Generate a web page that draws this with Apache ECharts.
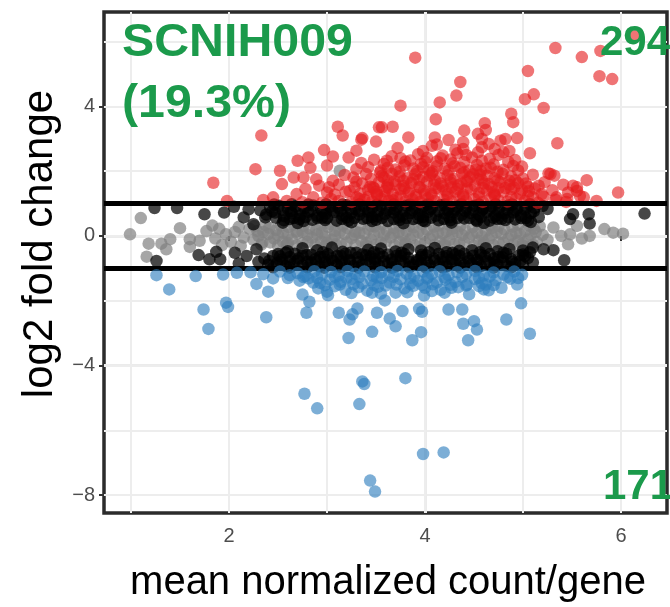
<!DOCTYPE html>
<html>
<head>
<meta charset="utf-8">
<script src="https://cdn.jsdelivr.net/npm/echarts@6/dist/echarts.min.js"></script>
<style>
  html, body { margin: 0; padding: 0; background: #ffffff; }
  #chart { width: 670px; height: 607px; }
</style>
</head>
<body>
<div id="chart"></div>
<script>
// Axis extents and labelled ticks (log10 mean count vs. log2 fold change)
const xRange = [0.7245, 6.469];
const yRange = [-8.55, 6.91];
const xTicks = [2, 4, 6];
const yTicks = [-8, -4, 0, 4];
const foldThresholds = [1, -1];

const sampleName = 'SCNIH009';
const sampleShare = '(19.3%)';
const upCount = '294';
const downCount = '171';

// Up-regulated genes (log2FC > 1, significant)
const upGenes = [
  [5.33,5.80],[5.60,5.52],[5.79,5.71],[6.14,6.16],[5.78,4.93],[5.91,4.84],[3.90,5.50],[5.05,5.09],
  [4.36,4.75],[4.32,4.33],[4.15,4.12],[5.02,4.22],[5.11,4.37],[5.21,3.95],[3.75,4.02],[4.11,3.60],
  [3.67,3.37],[3.56,3.35],[3.83,3.04],[4.61,3.48],[4.40,3.25],[4.54,3.15],[4.88,3.77],[4.90,3.51],
  [4.94,3.02],[5.35,2.86],[5.07,2.55],[4.82,2.99],[4.24,2.96],[4.12,2.82],[5.65,1.72],[5.97,1.34],
  [5.46,1.34],[5.26,1.93],[5.32,1.86],[4.99,2.14],[5.16,1.55],[5.55,1.50],[5.58,1.24],[4.56,1.89],
  [2.33,3.10],[3.11,3.37],[3.16,3.10],[3.35,2.97],[3.50,2.91],[3.53,3.35],[2.27,2.06],[1.84,1.64],
  [2.70,2.32],[2.97,2.65],[2.81,2.42],[3.06,2.45],[3.22,2.42],[3.30,2.63],[2.52,2.01],[2.66,1.80],
  [2.83,2.10],[3.00,2.17],[3.30,2.06],[1.98,1.08],[2.35,1.11],[2.45,1.19],[2.54,1.60],
  [4.62,3.27],[4.58,2.99],[4.65,2.84],[4.77,2.94],[4.10,3.04],[4.39,2.89],[4.39,2.68],[4.54,2.58],
  [4.71,2.68],[4.80,2.58],[5.28,1.91],[5.51,1.55],[5.55,1.39],[3.36,3.02],
  [2.76,1.80],[2.89,1.75],[3.06,1.70],[3.27,1.80],[3.40,1.91],[3.54,1.96],[3.47,1.50],[3.23,1.39],
  [3.00,1.34],[2.69,1.29],[2.86,1.19],[2.59,1.08],[3.04,1.14],[3.30,1.19],[3.51,1.29],[3.61,2.32],
  [3.61,1.50],[5.62,1.19],[5.75,1.08],[5.34,1.19],[5.45,1.14],[5.21,1.21],
  [3.38,1.12],[3.46,1.06],[3.55,1.15],[3.63,1.09],[3.71,1.18],[3.80,1.07],[3.87,1.13],[3.95,1.05],
  [4.03,1.16],[4.10,1.08],[4.19,1.12],[4.27,1.06],[4.35,1.19],[4.42,1.09],[4.50,1.14],[4.59,1.05],
  [4.67,1.17],[4.75,1.10],[4.84,1.06],[4.93,1.15],[5.02,1.08],[5.10,1.19],[5.33,1.12],[5.44,1.05],
  [3.08,1.28],[3.19,1.36],[3.34,1.31],[3.42,1.42],[3.51,1.27],[3.59,1.38],[3.67,1.30],[3.75,1.44],
  [3.83,1.33],[3.91,1.26],[3.99,1.40],[4.06,1.31],[4.14,1.45],[4.23,1.29],[4.31,1.37],[4.39,1.27],
  [4.47,1.43],[4.55,1.32],[4.63,1.40],[4.71,1.28],[4.80,1.36],[4.88,1.44],[4.97,1.30],[5.06,1.38],
  [5.19,1.29],[5.30,1.41],
  [2.92,1.55],[3.12,1.58],[3.36,1.62],[3.44,1.52],[3.53,1.66],[3.62,1.57],[3.69,1.69],[3.78,1.54],
  [3.86,1.63],[3.94,1.51],[4.02,1.67],[4.09,1.58],[4.18,1.53],[4.26,1.65],[4.34,1.56],[4.43,1.68],
  [4.51,1.55],[4.60,1.62],[4.68,1.51],[4.77,1.66],[4.86,1.58],[4.95,1.63],[5.05,1.52],[5.22,1.66],
  [5.41,1.58],
  [3.18,1.88],[3.58,1.80],[3.66,1.92],[3.74,1.84],[3.82,1.78],[3.90,1.90],[3.98,1.82],[4.07,1.94],
  [4.15,1.79],[4.23,1.87],[4.30,1.76],[4.38,1.93],[4.46,1.81],[4.63,1.86],[4.71,1.78],[4.79,1.92],
  [4.88,1.83],[5.00,1.77],[5.10,1.89],
  [3.42,2.12],[3.70,2.05],[3.79,2.18],[3.88,2.08],[3.96,2.22],[4.04,2.03],[4.12,2.15],[4.20,2.07],
  [4.28,2.24],[4.36,2.10],[4.45,2.02],[4.53,2.19],[4.62,2.08],[4.70,2.21],[4.80,2.04],[4.90,2.16],
  [3.48,2.35],[3.66,2.46],[3.85,2.33],[3.93,2.52],[4.02,2.41],[4.18,2.48],[4.26,2.36],[4.33,2.55],
  [4.48,2.42],[4.66,2.38],[4.75,2.50],[4.92,2.34],
  [3.72,2.71],[3.98,2.62],[4.07,2.78],[4.31,2.66],[4.58,2.74],[4.86,2.62],
  [3.25,1.05],[3.42,1.21],[3.59,1.22],[3.75,1.23],[3.91,1.19],[4.07,1.24],[4.23,1.20],[4.39,1.22],
  [4.55,1.21],[4.71,1.24],[4.88,1.20],[5.05,1.23],[5.15,1.02],[2.75,1.04],[2.95,1.02],[3.12,1.08],
  [3.28,1.50],[3.48,1.47],[3.63,1.48],[3.79,1.46],[3.95,1.49],[4.11,1.47],[4.27,1.50],[4.43,1.46],
  [4.59,1.48],[4.75,1.47],[4.91,1.49],[5.12,1.46],[2.78,1.45],[3.02,1.50],
  [3.45,1.76],[3.62,1.72],[3.78,1.70],[3.94,1.73],[4.10,1.71],[4.26,1.74],[4.42,1.70],[4.58,1.73],
  [4.74,1.71],[4.92,1.72],[3.30,1.68],
  [3.55,2.02],[3.74,1.98],[3.92,2.00],[4.08,1.99],[4.24,2.01],[4.40,1.97],[4.57,2.00],[4.74,1.98],
  [4.95,2.02],[3.35,2.25],[3.58,2.22],[3.80,2.30],[4.12,2.30],[4.40,2.28],[4.58,2.32],[4.85,2.28],
  [3.33,1.15],[3.50,1.36],[3.67,1.10],[3.84,1.40],[4.00,1.30],[4.16,1.62],[4.33,1.45],[4.49,1.90],
  [4.65,1.60],[4.82,1.48],[4.99,1.42],[3.70,1.58],[3.88,1.74],[4.05,1.86],[4.21,1.40],[4.37,1.62],
  [4.54,1.75],[4.70,1.35],[4.86,1.70],[5.03,1.62],[3.56,1.85],[3.98,2.12],[4.30,2.15],[4.67,2.10],
  [4.52,2.05],[3.62,2.10],[4.16,2.40],[4.42,2.50],[4.00,2.30],[3.75,2.40]
];

// Down-regulated genes (log2FC < -1, significant)
const downGenes = [
  [1.26,-1.21],[1.39,-1.65],[1.66,-1.24],[1.74,-2.27],[1.79,-2.87],[1.97,-2.06],[1.99,-2.19],[1.94,-1.19],
  [2.08,-1.14],[2.28,-1.48],[2.40,-1.72],[2.45,-1.31],[2.38,-2.51],[2.62,-1.21],[2.75,-1.81],[2.82,-2.03],
  [2.79,-2.37],[2.86,-1.44],[3.01,-1.83],[3.12,-2.37],[3.23,-2.58],[3.26,-2.42],[3.31,-2.24],[3.22,-3.15],
  [3.46,-2.96],[3.51,-2.37],[3.59,-1.99],[3.46,-1.75],
  [3.70,-1.75],[3.64,-2.55],[3.70,-2.79],[3.77,-2.32],[3.87,-3.22],[3.96,-2.97],[3.94,-2.25],[3.97,-2.34],
  [3.99,-1.84],[4.07,-1.70],[4.24,-2.27],[4.27,-1.60],[4.38,-2.27],[4.39,-2.71],[4.44,-3.22],[4.50,-2.63],
  [4.53,-2.89],[4.43,-1.50],[4.65,-1.68],[4.78,-1.60],[4.83,-2.58],[4.94,-1.50],[4.98,-2.08],[5.07,-3.02],
  [2.77,-4.87],[2.90,-5.32],[3.33,-5.19],[3.36,-4.49],[3.38,-4.57],[3.80,-4.39],[3.98,-6.73],[4.19,-6.68],
  [3.44,-7.55],[3.49,-7.89],
  [2.22,-1.12],[2.35,-1.18],[2.52,-1.10],[2.70,-1.15],[2.78,-1.24],[2.87,-1.09],[2.95,-1.19],[3.04,-1.11],
  [3.12,-1.22],[3.21,-1.08],[3.29,-1.17],[3.38,-1.10],[3.47,-1.23],[3.55,-1.12],[3.63,-1.19],[3.72,-1.08],
  [3.81,-1.16],[3.89,-1.24],[3.98,-1.10],[4.07,-1.18],[4.15,-1.09],[4.24,-1.21],[4.33,-1.12],[4.42,-1.17],
  [4.51,-1.08],[4.60,-1.22],[4.70,-1.13],[4.80,-1.19],[4.91,-1.10],[4.99,-1.20],
  [2.72,-1.38],[2.81,-1.31],[2.93,-1.45],[3.03,-1.35],[3.14,-1.42],[3.25,-1.33],[3.36,-1.47],[3.45,-1.36],
  [3.56,-1.30],[3.64,-1.44],[3.75,-1.34],[3.85,-1.48],[3.93,-1.38],[4.02,-1.31],[4.12,-1.44],[4.21,-1.35],
  [4.31,-1.42],[4.51,-1.33],[4.58,-1.46],[4.72,-1.37],[4.87,-1.32],
  [2.91,-1.62],[3.08,-1.55],[3.19,-1.66],[3.32,-1.58],[3.41,-1.69],[3.52,-1.57],[3.79,-1.62],[3.88,-1.54],
  [4.16,-1.66],[4.34,-1.58],[4.55,-1.55],
  [2.60,-1.30],[2.76,-1.27],[2.90,-1.29],[3.08,-1.26],[3.20,-1.29],[3.33,-1.27],[3.51,-1.28],[3.68,-1.26],
  [3.85,-1.29],[4.03,-1.27],[4.20,-1.28],[4.38,-1.26],[4.55,-1.29],[4.66,-1.25],[4.84,-1.27],[4.95,-1.30],
  [2.98,-1.52],[3.13,-1.50],[3.27,-1.49],[3.48,-1.51],[3.60,-1.53],[3.71,-1.50],[3.97,-1.52],[4.08,-1.49],
  [4.26,-1.51],[4.42,-1.53],[4.62,-1.50],[4.70,-1.52],
  [3.00,-1.72],[3.25,-1.76],[3.55,-1.78],[3.82,-1.74],[4.00,-1.60],[4.20,-1.75],[4.45,-1.80],[4.60,-1.65]
];

// Significant genes with |log2FC| <= 1
const sigSmallChange = [
  [2.42,0.88],[2.51,0.93],[2.60,0.84],[2.68,0.91],[2.77,0.86],[2.86,0.94],[2.94,0.83],[3.03,0.90],
  [3.12,0.87],[3.20,0.95],[3.29,0.84],[3.38,0.91],[3.46,0.86],[3.55,0.93],[3.64,0.82],[3.72,0.89],
  [3.81,0.94],[3.90,0.85],[3.98,0.91],[4.07,0.87],[4.16,0.95],[4.24,0.83],[4.33,0.90],[4.42,0.86],
  [4.50,0.93],[4.59,0.84],[4.68,0.91],[4.76,0.88],[4.85,0.94],[4.94,0.85],[5.03,0.90],[5.12,0.87],
  [5.20,0.92],
  [2.38,0.66],[2.47,0.72],[2.56,0.61],[2.64,0.70],[2.73,0.64],[2.81,0.74],[2.90,0.62],[2.99,0.69],
  [3.07,0.73],[3.16,0.63],[3.25,0.71],[3.33,0.66],[3.42,0.74],[3.51,0.61],[3.59,0.68],[3.68,0.72],
  [3.77,0.63],[3.85,0.70],[3.94,0.65],[4.03,0.74],[4.11,0.62],[4.20,0.69],[4.29,0.73],[4.37,0.64],
  [4.46,0.71],[4.55,0.66],[4.63,0.74],[4.72,0.62],[4.81,0.69],[4.90,0.72],[4.98,0.63],[5.08,0.70],
  [5.16,0.58],
  [2.85,0.50],[3.10,0.47],[3.37,0.53],[3.62,0.46],[3.88,0.52],[4.14,0.48],[4.40,0.54],[4.66,0.47],
  [4.92,0.51],[3.00,0.55],[3.50,0.50],[4.00,0.45],[4.52,0.50],[4.78,0.53],
  [2.32,0.79],[2.44,0.76],[2.55,0.80],[2.63,0.77],[2.72,0.81],[2.83,0.78],[2.95,0.76],[3.05,0.80],
  [3.14,0.78],[3.24,0.82],[3.33,0.77],[3.43,0.80],[3.52,0.76],[3.61,0.79],[3.70,0.81],[3.79,0.77],
  [3.87,0.80],[3.96,0.78],[4.05,0.82],[4.14,0.76],[4.23,0.79],[4.31,0.81],[4.41,0.77],[4.49,0.80],
  [4.58,0.78],[4.66,0.82],[4.75,0.76],[4.84,0.80],[4.93,0.78],[5.02,0.81],[5.11,0.76],[5.25,0.83],
  [2.48,0.56],[2.66,0.55],[2.78,0.58],[2.95,0.56],[3.20,0.57],[3.28,0.55],[3.46,0.58],[3.56,0.55],
  [3.73,0.57],[3.81,0.55],[3.98,0.58],[4.06,0.56],[4.25,0.57],[4.33,0.55],[4.57,0.58],[4.70,0.56],
  [4.85,0.57],[5.03,0.55],
  [2.70,0.40],[3.25,0.42],[3.78,0.39],[4.27,0.41],[4.60,0.40],[5.08,0.43],
  [2.46,0.97],[2.64,0.98],[2.81,0.97],[2.99,0.98],[3.16,0.97],[3.33,0.98],[3.51,0.97],[3.68,0.98],
  [3.85,0.97],[4.03,0.98],[4.20,0.97],[4.37,0.98],[4.55,0.97],[4.72,0.98],[4.89,0.97],[5.07,0.98],
  [2.56,0.48],[2.76,0.46],[2.98,0.49],[3.22,0.47],[3.46,0.46],[3.74,0.49],[3.98,0.47],[4.26,0.48],
  [4.53,0.46],[4.82,0.49],[5.05,0.47],
  [2.62,0.52],[2.90,0.55],[3.15,0.52],[3.41,0.55],[3.68,0.52],[3.93,0.55],[4.19,0.52],[4.45,0.55],
  [4.74,0.52],[4.98,0.55],
  [2.40,-0.89],[2.49,-0.84],[2.58,-0.93],[2.66,-0.86],[2.75,-0.91],[2.84,-0.83],[2.92,-0.94],[3.01,-0.87],
  [3.10,-0.90],[3.18,-0.84],[3.27,-0.93],[3.36,-0.88],[3.44,-0.82],[3.53,-0.91],[3.62,-0.86],[3.70,-0.94],
  [3.79,-0.85],[3.88,-0.90],[3.96,-0.83],[4.05,-0.92],[4.14,-0.87],[4.22,-0.94],[4.31,-0.84],[4.40,-0.90],
  [4.48,-0.86],[4.57,-0.93],[4.66,-0.83],[4.74,-0.89],[4.83,-0.92],[4.92,-0.85],[5.00,-0.90],
  [2.36,-0.70],[2.45,-0.62],[2.54,-0.73],[2.62,-0.65],[2.71,-0.69],[2.79,-0.59],[2.88,-0.72],[2.97,-0.64],
  [3.05,-0.70],[3.14,-0.61],[3.23,-0.74],[3.31,-0.66],[3.40,-0.60],[3.49,-0.71],[3.57,-0.64],[3.66,-0.73],
  [3.75,-0.62],[3.83,-0.68],[3.92,-0.74],[4.01,-0.60],[4.09,-0.70],[4.18,-0.65],[4.27,-0.72],[4.35,-0.61],
  [4.44,-0.69],[4.53,-0.74],[4.61,-0.63],[4.70,-0.70],[4.79,-0.66],[4.88,-0.72],[4.96,-0.60],[5.05,-0.68],
  [2.60,-0.47],[2.90,-0.44],[3.16,-0.49],[3.42,-0.43],[3.70,-0.48],[3.96,-0.45],[4.22,-0.50],[4.48,-0.44],
  [4.74,-0.47],[5.00,-0.45],[3.30,-0.52],[3.83,-0.41],[4.35,-0.46],[4.86,-0.40],
  [2.30,-0.80],[2.41,-0.77],[2.53,-0.81],[2.62,-0.78],[2.70,-0.76],[2.80,-0.80],[2.89,-0.78],[2.98,-0.82],
  [3.06,-0.77],[3.15,-0.80],[3.23,-0.78],[3.32,-0.81],[3.40,-0.76],[3.49,-0.80],[3.58,-0.78],[3.67,-0.82],
  [3.75,-0.77],[3.84,-0.80],[3.93,-0.78],[4.02,-0.81],[4.10,-0.76],[4.19,-0.80],[4.28,-0.78],[4.36,-0.82],
  [4.45,-0.77],[4.54,-0.80],[4.63,-0.78],[4.71,-0.81],[4.80,-0.76],[4.89,-0.80],[4.97,-0.78],[5.10,-0.82],
  [2.50,-0.56],[2.67,-0.55],[2.84,-0.58],[3.01,-0.56],[3.19,-0.55],[3.36,-0.57],[3.53,-0.55],[3.62,-0.57],
  [3.79,-0.56],[3.97,-0.58],[4.14,-0.55],[4.31,-0.57],[4.40,-0.55],[4.57,-0.58],[4.66,-0.56],[4.83,-0.55],
  [5.00,-0.57],
  [2.75,-0.38],[3.05,-0.36],[3.55,-0.39],[4.10,-0.37],[4.62,-0.38],[5.10,-0.36],
  [2.45,-0.97],[2.62,-0.98],[2.80,-0.97],[2.97,-0.98],[3.14,-0.97],[3.32,-0.98],[3.49,-0.97],[3.66,-0.98],
  [3.84,-0.97],[4.01,-0.98],[4.18,-0.97],[4.36,-0.98],[4.53,-0.97],[4.70,-0.98],[4.88,-0.97],
  [2.52,-0.63],[2.75,-0.61],[2.93,-0.64],[3.10,-0.62],[3.45,-0.63],[3.71,-0.61],[3.96,-0.64],[4.22,-0.62],
  [4.49,-0.61],[4.75,-0.64],[5.02,-0.62],
  [2.58,-0.52],[2.96,-0.50],[3.24,-0.52],[3.48,-0.50],[3.76,-0.52],[4.04,-0.50],[4.28,-0.52],[4.56,-0.50],
  [4.80,-0.52],[5.07,-0.50],
  [1.24,0.86],[1.47,0.86],[1.75,0.67],[1.95,0.72],[1.26,-0.77],[1.69,-0.59],[1.80,-0.72],[1.87,-0.49],
  [1.91,-0.72],[2.06,-0.52],[2.15,0.57],[2.25,0.36],[2.37,0.57],[2.55,0.41],[2.72,0.52],[6.24,0.69],
  [5.51,0.67],[5.67,0.67],[5.68,0.38],[5.48,0.52],[5.31,-0.44],[5.42,-0.75],[5.21,-0.41],
  [2.18,-0.62],[2.28,-0.41],[2.10,-0.85],[2.20,0.82],[2.05,0.90]
];

// Genes that are not significant
const notSignificant = [
  [2.21,0.22],[2.29,0.15],[2.41,0.25],[2.48,0.18],[2.61,0.27],[2.69,0.14],[2.82,0.23],[2.89,0.19],
  [3.01,0.28],[3.08,0.16],[3.21,0.24],[3.29,0.13],[3.42,0.21],[3.49,0.29],[3.61,0.17],[3.68,0.24],
  [3.81,0.15],[3.88,0.26],[4.02,0.19],[4.09,0.28],[4.22,0.14],[4.28,0.22],[4.41,0.18],[4.49,0.27],
  [4.62,0.16],[4.68,0.24],[4.81,0.20],[4.89,0.28],[5.02,0.15],[5.11,0.22],
  [2.25,-0.12],[2.34,-0.20],[2.46,-0.08],[2.55,-0.18],[2.64,-0.10],[2.75,-0.22],[2.85,-0.06],[2.94,-0.17],
  [3.05,-0.11],[3.14,-0.23],[3.25,-0.07],[3.35,-0.16],[3.45,-0.12],[3.55,-0.21],[3.65,-0.05],[3.74,-0.18],
  [3.85,-0.10],[3.95,-0.24],[4.05,-0.08],[4.15,-0.17],[4.25,-0.12],[4.35,-0.22],[4.45,-0.06],[4.55,-0.15],
  [4.65,-0.10],[4.75,-0.20],[4.85,-0.08],[4.95,-0.16],[5.05,-0.11],[5.14,-0.19],
  [2.60,0.04],[2.98,-0.02],[3.38,0.06],[3.77,0.01],[4.18,0.07],[4.58,-0.01],[4.97,0.05],[2.30,0.00],
  [5.20,0.03],
  [2.26,0.31],[2.37,0.34],[2.53,0.32],[2.66,0.35],[2.76,0.31],[2.94,0.33],[3.04,0.36],[3.16,0.32],
  [3.34,0.34],[3.45,0.31],[3.56,0.35],[3.74,0.33],[3.84,0.31],[3.97,0.36],[4.14,0.32],[4.25,0.34],
  [4.36,0.31],[4.55,0.35],[4.66,0.33],[4.75,0.31],[4.95,0.34],[5.06,0.32],[5.17,0.30],
  [2.40,0.06],[2.50,0.02],[2.70,0.07],[2.80,0.03],[2.90,0.05],[3.08,0.01],[3.18,0.06],[3.28,0.03],
  [3.48,0.05],[3.58,0.02],[3.68,0.07],[3.88,0.03],[3.98,0.05],[4.08,0.02],[4.28,0.06],[4.38,0.03],
  [4.48,0.05],[4.68,0.02],[4.78,0.06],[4.88,0.03],[5.08,0.04],
  [2.33,-0.27],[2.50,-0.30],[2.59,-0.26],[2.69,-0.29],[2.88,-0.27],[2.99,-0.30],[3.09,-0.26],[3.29,-0.28],
  [3.40,-0.30],[3.50,-0.27],[3.69,-0.29],[3.80,-0.26],[3.90,-0.30],[4.10,-0.27],[4.20,-0.29],[4.30,-0.26],
  [4.50,-0.30],[4.60,-0.27],[4.70,-0.29],[4.90,-0.26],[5.00,-0.30],[5.10,-0.27],
  [2.35,0.12],[2.55,0.10],[2.75,0.13],[2.95,0.11],[3.13,0.12],[3.33,0.10],[3.53,0.13],[3.73,0.11],
  [3.93,0.12],[4.13,0.10],[4.33,0.13],[4.53,0.11],[4.73,0.12],[4.93,0.10],[5.13,0.12],
  [2.42,-0.20],[2.60,-0.22],[2.80,-0.19],[3.00,-0.21],[3.20,-0.20],[3.40,-0.22],[3.60,-0.19],[3.80,-0.21],
  [4.00,-0.20],[4.20,-0.22],[4.40,-0.19],[4.60,-0.21],[4.80,-0.20],[5.00,-0.22],
  [0.99,0.05],[1.10,0.55],[1.18,-0.24],[1.16,-0.64],[1.31,-0.24],[1.36,-0.41],[1.40,-0.10],[1.50,0.24],
  [1.60,-0.10],[1.60,-0.34],[1.70,-0.15],[1.77,0.15],[1.83,0.32],[1.90,0.22],[1.97,0.05],[2.02,-0.18],
  [2.10,0.28],[2.15,-0.05],[1.86,-0.08],[1.93,-0.28],[2.06,0.12],[2.12,-0.30],
  [5.31,0.26],[5.39,0.00],[5.48,0.05],[5.55,0.31],[5.68,0.00],[5.46,-0.26],[5.83,0.21],[5.92,0.10],
  [6.02,0.07],[5.25,-0.12],[5.60,-0.08],[3.13,2.01]
];

const FONT = '"Liberation Sans", Arial, Helvetica, sans-serif';
const GREEN = '#1b9a4b';
const POINT = 12.5;

function signedLabel(v) {
  return v < 0 ? '\u2212' + Math.abs(v) : String(v);
}

function pointSeries(name, data, color, z) {
  return {
    name: name,
    type: 'scatter',
    data: data,
    symbol: 'circle',
    symbolSize: POINT,
    z: z,
    silent: true,
    animation: false,
    itemStyle: { color: color, borderWidth: 0 }
  };
}

const chart = echarts.init(document.getElementById('chart'), null, { renderer: 'canvas' });

const gridLineMajor = { show: true, showMinLine: false, showMaxLine: false,
                        lineStyle: { color: '#ebebeb', width: 3 } };
const gridLineMinor = { show: true, showMinLine: false, showMaxLine: false,
                        lineStyle: { color: '#ededed', width: 2 } };

chart.setOption({
  backgroundColor: '#ffffff',
  animation: false,
  grid: {
    left: 104, top: 12, right: 3, bottom: 94,
    show: true, borderColor: '#2b2b2b', borderWidth: 3.5, backgroundColor: '#ffffff'
  },
  xAxis: [
    {
      type: 'value', min: xRange[0], max: xRange[1], splitNumber: 3,
      axisLine: { show: false },
      axisTick: { show: true, customValues: xTicks, length: 5, lineStyle: { color: '#333333', width: 2 } },
      axisLabel: { customValues: xTicks, color: '#4d4d4d', fontSize: 20, fontFamily: FONT, margin: 13 },
      splitLine: gridLineMajor
    },
    {
      type: 'value', min: xRange[0], max: xRange[1], splitNumber: 6,
      axisLine: { show: false }, axisTick: { show: false }, axisLabel: { show: false },
      splitLine: gridLineMinor
    }
  ],
  yAxis: [
    {
      type: 'value', min: yRange[0], max: yRange[1], splitNumber: 4,
      axisLine: { show: false },
      axisTick: { show: true, customValues: yTicks, length: 5, lineStyle: { color: '#333333', width: 2 } },
      axisLabel: { customValues: yTicks, color: '#4d4d4d', fontSize: 20, fontFamily: FONT, margin: 9,
                   formatter: signedLabel },
      splitLine: gridLineMajor
    },
    {
      type: 'value', min: yRange[0], max: yRange[1], splitNumber: 8,
      axisLine: { show: false }, axisTick: { show: false }, axisLabel: { show: false },
      splitLine: gridLineMinor
    }
  ],
  series: [
    pointSeries('not significant', notSignificant, 'rgba(128,128,128,0.88)', 2),
    pointSeries('small change', sigSmallChange, 'rgba(0,0,0,0.9)', 3),
    pointSeries('up', upGenes, 'rgba(228,26,28,0.76)', 4),
    pointSeries('down', downGenes, 'rgba(45,125,190,0.78)', 5),
    {
      name: 'fold-change cut-off',
      type: 'scatter',
      data: [],
      z: 6,
      silent: true,
      markLine: {
        silent: true,
        symbol: 'none',
        animation: false,
        label: { show: false },
        lineStyle: { color: '#000000', width: 5, type: 'solid' },
        data: foldThresholds.map(v => ({ yAxis: v }))
      }
    }
  ],
  graphic: [
    { type: 'text', x: 122, y: 43, z: 100, scaleX: 1.05,
      style: { text: sampleName, fill: GREEN, font: 'bold 46px ' + FONT, align: 'left', verticalAlign: 'middle' } },
    { type: 'text', x: 122, y: 104, z: 100, scaleX: 1.05,
      style: { text: sampleShare, fill: GREEN, font: 'bold 46px ' + FONT, align: 'left', verticalAlign: 'middle' } },
    { type: 'text', x: 600, y: 43, z: 100,
      style: { text: upCount, fill: GREEN, font: 'bold 42px ' + FONT, align: 'left', verticalAlign: 'middle' } },
    { type: 'text', x: 603, y: 487, z: 100,
      style: { text: downCount, fill: GREEN, font: 'bold 42px ' + FONT, align: 'left', verticalAlign: 'middle' } },
    { type: 'text', x: 388, y: 583, z: 100,
      style: { text: 'mean normalized count/gene', fill: '#000000', font: '40px ' + FONT, align: 'center', verticalAlign: 'middle' } },
    { type: 'text', x: 40, y: 244, z: 100, rotation: Math.PI / 2,
      style: { text: 'log2 fold change', fill: '#000000', font: '42px ' + FONT, align: 'center', verticalAlign: 'middle' } }
  ]
});
</script>
</body>
</html>
